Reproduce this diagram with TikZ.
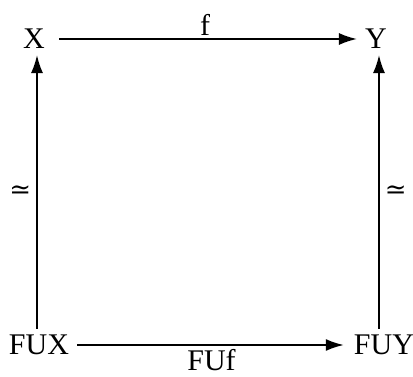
\documentclass[tikz,border=0pt]{standalone}
\usepackage{fontspec}
\setmainfont{Liberation Serif}
\newfontfamily\isofont{DejaVu Serif}
\usetikzlibrary{positioning,arrows.meta}
\tikzset{
  cd obj/.style={
    inner sep=6pt,
    font=\fontsize{30}{34}\selectfont
  },
  cd arrow/.style={-{Latex[length=18pt,width=12pt]}, line width=1.8pt},
  cd label/.style={font=\fontsize{30}{34}\selectfont, inner sep=3pt},
  cd iso/.style={font=\isofont\fontsize{26}{30}\selectfont, inner sep=5pt}
}
\begin{document}
\begin{tikzpicture}[x=1pt,y=1pt]
\useasboundingbox (0,0) rectangle (413,377);
\node[cd obj] (X) at (34,338) {X};
\node[cd obj] (Y) at (376,338) {Y};
\node[cd obj] (FUX) at (39,32) {FUX};
\node[cd obj] (FUY) at (384,32) {FUY};
\draw[cd arrow, shorten <=8pt, shorten >=2pt] (X) -- node[cd label, above] {f} (Y);
\draw[cd arrow, shorten <=2pt, shorten >=4pt] (FUX) -- node[cd label, below] {FUf} (FUY);
\draw[cd arrow] ([xshift=-2pt]FUX.north) -- node[cd iso, left] {≃} ([xshift=-2pt]FUX.north |- X.south);
\draw[cd arrow] ([xshift=-5pt]FUY.north) -- node[cd iso, right] {≃} ([xshift=-5pt]FUY.north |- Y.south);
\end{tikzpicture}
\end{document}
